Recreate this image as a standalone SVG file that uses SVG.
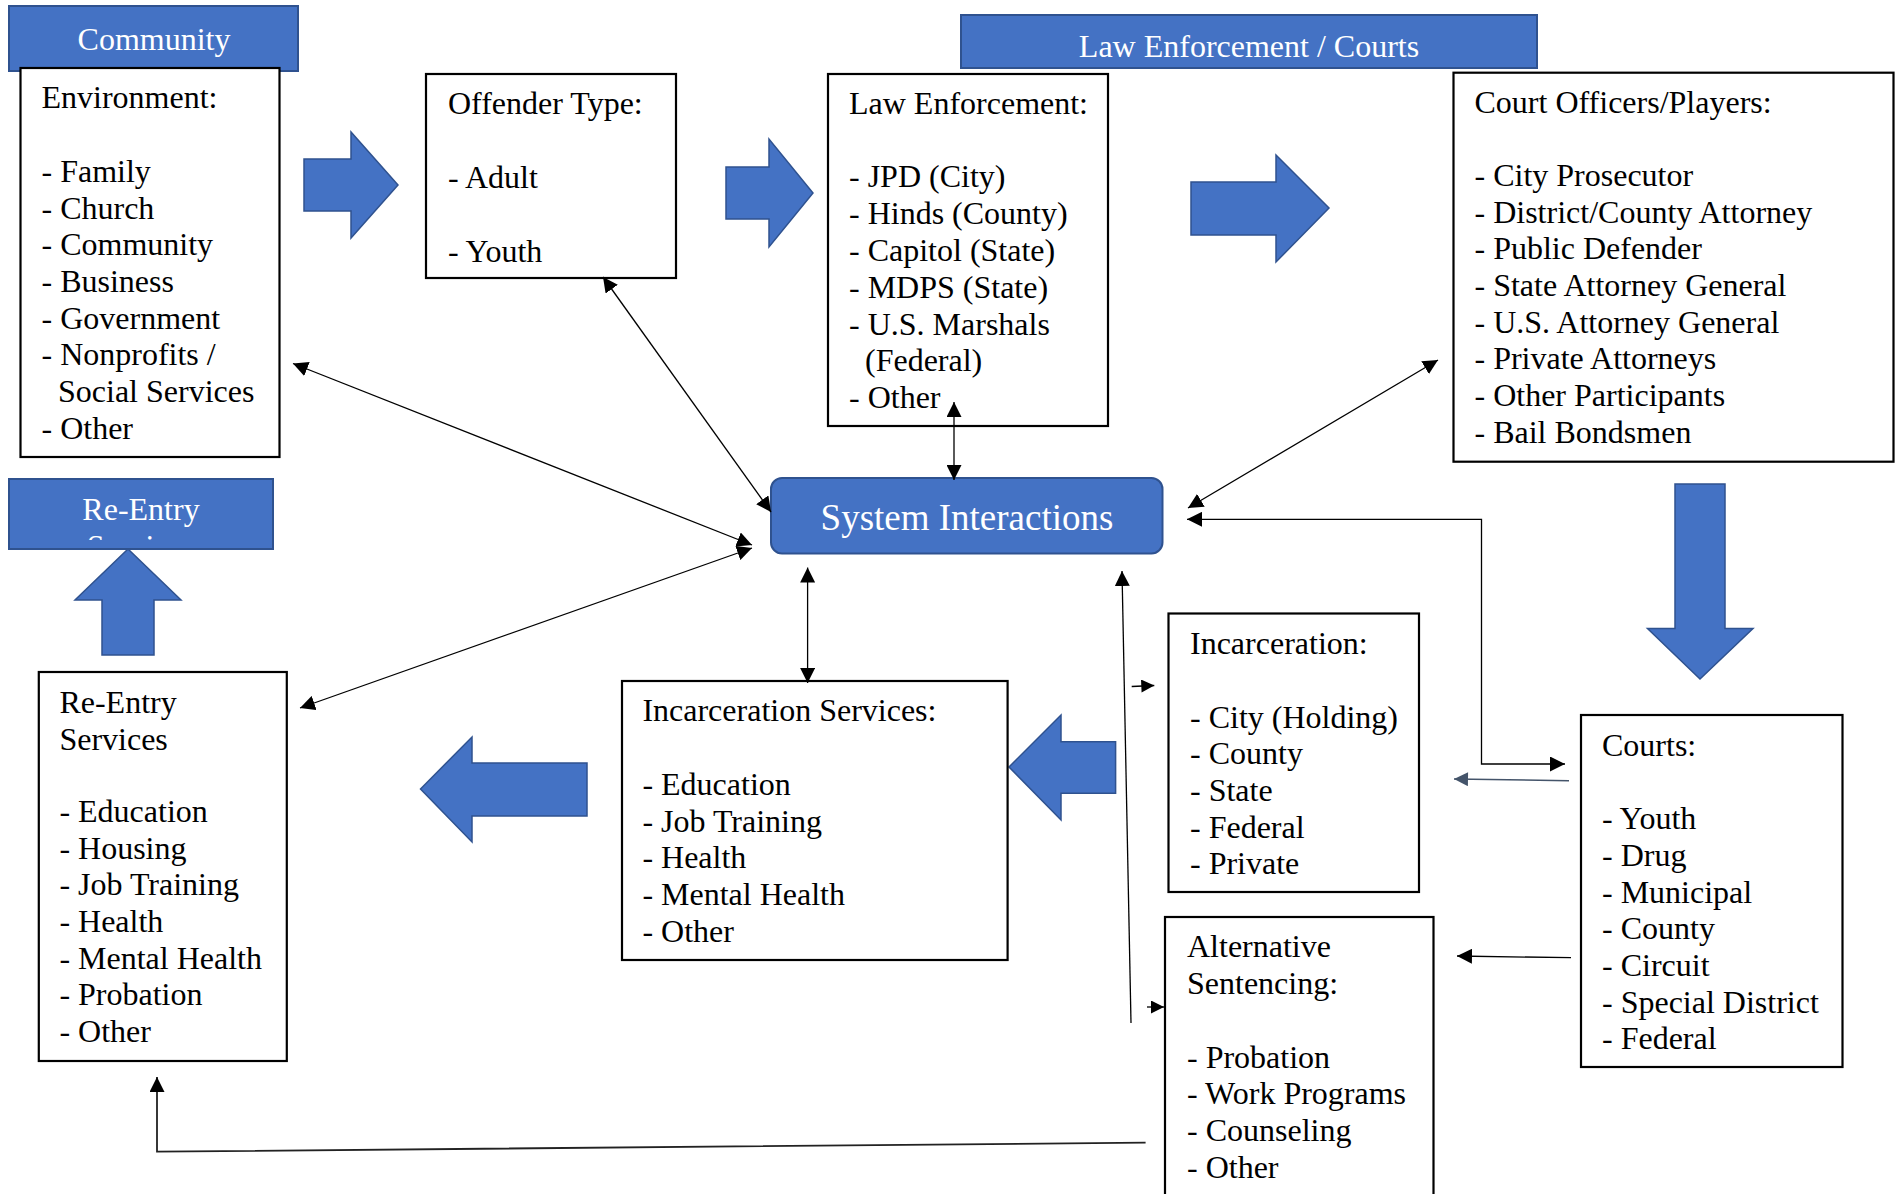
<svg xmlns="http://www.w3.org/2000/svg" width="1900" height="1194" viewBox="0 0 1900 1194">
<defs>
<style>
.bg{fill:#ffffff}
.box{fill:#ffffff;stroke:#000000;stroke-width:2.2}
.hdr{fill:#4472C4;stroke:#2F528F;stroke-width:2}
.blk{fill:#4472C4;stroke:#2F528F;stroke-width:1.5;stroke-linejoin:miter}
.t{font-family:"Liberation Serif","Times New Roman",serif;font-size:32px;fill:#000000}
.ht{font-family:"Liberation Serif","Times New Roman",serif;font-size:32px;fill:#ffffff;text-anchor:middle}
.st{font-family:"Liberation Serif","Times New Roman",serif;font-size:37px;fill:#ffffff;text-anchor:middle}
.c{fill:none;stroke:#000000;stroke-width:1.3}
.cg{fill:none;stroke:#44546A;stroke-width:1.5}
.cb{fill:none;stroke:#222222;stroke-width:1.8}
</style>
<marker id="ah" viewBox="0 0 10 10" refX="10" refY="5" markerWidth="15" markerHeight="15" markerUnits="userSpaceOnUse" orient="auto-start-reverse">
<path d="M0,0 L10,5 L0,10 z" fill="#000000"/>
</marker>
<marker id="ahs" viewBox="0 0 10 10" refX="10" refY="5" markerWidth="14" markerHeight="13" markerUnits="userSpaceOnUse" orient="auto">
<path d="M0,0 L10,5 L0,10 z" fill="#000000"/>
</marker>
<marker id="ahg" viewBox="0 0 10 10" refX="10" refY="5" markerWidth="15" markerHeight="14" markerUnits="userSpaceOnUse" orient="auto">
<path d="M0,0 L10,5 L0,10 z" fill="#44546A"/>
</marker>
<clipPath id="reclip"><rect x="9" y="479" width="264" height="61"/></clipPath>
</defs>
<rect class="bg" x="0" y="0" width="1900" height="1194"/>

<g id="block-arrows">
<polygon class="blk" points="304,159 351,159 351,132 398,185 351,238 351,211 304,211"/>
<polygon class="blk" points="726,167 769,167 769,139 813,193 769,247 769,219 726,219"/>
<polygon class="blk" points="1191,182 1276,182 1276,155 1329,208 1276,262 1276,235 1191,235"/>
<polygon class="blk" points="1675,484 1725,484 1725,628.5 1753,628.5 1700,679 1647.5,628.5 1675,628.5"/>
<polygon class="blk" points="1009,767 1061,715 1061,741.7 1115.6,741.7 1115.6,793.3 1061,793.3 1061,820"/>
<polygon class="blk" points="420.5,789 472,737 472,763 587,763 587,816 472,816 472,842"/>
<polygon class="blk" points="128,549 181,600 154,600 154,655 102,655 102,600 75,600"/>
</g>

<g id="community-header">
<rect class="hdr" x="9" y="6" width="289" height="65"/>
<text class="ht" x="154" y="50">Community</text>
</g>

<g id="law-courts-header">
<rect class="hdr" x="961" y="15" width="576" height="53"/>
<text class="ht" x="1249" y="57">Law Enforcement / Courts</text>
</g>

<g id="reentry-header">
<rect class="hdr" x="9" y="479" width="264" height="70"/>
<text class="ht" x="141" y="520">Re-Entry</text>
<text class="ht" x="141" y="557" clip-path="url(#reclip)">Services</text>
</g>

<g id="environment">
<rect class="box" x="20.5" y="68" width="259" height="389"/>
<text class="t">
<tspan x="41.5" y="107.5">Environment:</tspan>
<tspan x="41.5" y="182">- Family</tspan>
<tspan x="41.5" y="218.5">- Church</tspan>
<tspan x="41.5" y="255">- Community</tspan>
<tspan x="41.5" y="292">- Business</tspan>
<tspan x="41.5" y="328.5">- Government</tspan>
<tspan x="41.5" y="365">- Nonprofits /</tspan>
<tspan x="58" y="402">Social Services</tspan>
<tspan x="41.5" y="438.5">- Other</tspan>
</text>
</g>

<g id="offender-type">
<rect class="box" x="426" y="74" width="250" height="204"/>
<text class="t">
<tspan x="448" y="113.5">Offender Type:</tspan>
<tspan x="448" y="188">- Adult</tspan>
<tspan x="448" y="262">- Youth</tspan>
</text>
</g>

<g id="law-enforcement">
<rect class="box" x="828" y="74" width="280" height="352"/>
<text class="t">
<tspan x="849" y="113.5">Law Enforcement:</tspan>
<tspan x="849" y="187">- JPD (City)</tspan>
<tspan x="849" y="224">- Hinds (County)</tspan>
<tspan x="849" y="261">- Capitol (State)</tspan>
<tspan x="849" y="298">- MDPS (State)</tspan>
<tspan x="849" y="334.5">- U.S. Marshals</tspan>
<tspan x="865" y="371">(Federal)</tspan>
<tspan x="849" y="408">- Other</tspan>
</text>
</g>

<g id="court-officers">
<rect class="box" x="1453.5" y="72.7" width="440" height="389"/>
<text class="t">
<tspan x="1474.5" y="112.5">Court Officers/Players:</tspan>
<tspan x="1474.5" y="186">- City Prosecutor</tspan>
<tspan x="1474.5" y="222.5">- District/County Attorney</tspan>
<tspan x="1474.5" y="259">- Public Defender</tspan>
<tspan x="1474.5" y="296">- State Attorney General</tspan>
<tspan x="1474.5" y="332.5">- U.S. Attorney General</tspan>
<tspan x="1474.5" y="369">- Private Attorneys</tspan>
<tspan x="1474.5" y="406">- Other Participants</tspan>
<tspan x="1474.5" y="443">- Bail Bondsmen</tspan>
</text>
</g>

<g id="system-interactions">
<rect class="hdr" x="771" y="478" width="391.5" height="75.5" rx="11" ry="11"/>
<text class="st" x="967" y="529.5">System Interactions</text>
</g>

<g id="reentry-services">
<rect class="box" x="38.8" y="672" width="248" height="389"/>
<text class="t">
<tspan x="59.4" y="713">Re-Entry</tspan>
<tspan x="59.4" y="749.5">Services</tspan>
<tspan x="59.4" y="822">- Education</tspan>
<tspan x="59.4" y="858.7">- Housing</tspan>
<tspan x="59.4" y="895.4">- Job Training</tspan>
<tspan x="59.4" y="932">- Health</tspan>
<tspan x="59.4" y="968.7">- Mental Health</tspan>
<tspan x="59.4" y="1005.4">- Probation</tspan>
<tspan x="59.4" y="1042">- Other</tspan>
</text>
</g>

<g id="incarceration-services">
<rect class="box" x="622" y="681" width="385.6" height="279"/>
<text class="t">
<tspan x="642.4" y="721">Incarceration Services:</tspan>
<tspan x="642.4" y="795">- Education</tspan>
<tspan x="642.4" y="831.7">- Job Training</tspan>
<tspan x="642.4" y="868.4">- Health</tspan>
<tspan x="642.4" y="905">- Mental Health</tspan>
<tspan x="642.4" y="941.7">- Other</tspan>
</text>
</g>

<g id="incarceration">
<rect class="box" x="1168.5" y="613.5" width="250.5" height="278.5"/>
<text class="t">
<tspan x="1190" y="653.5">Incarceration:</tspan>
<tspan x="1190" y="727.5">- City (Holding)</tspan>
<tspan x="1190" y="764.3">- County</tspan>
<tspan x="1190" y="801">- State</tspan>
<tspan x="1190" y="837.5">- Federal</tspan>
<tspan x="1190" y="874">- Private</tspan>
</text>
</g>

<g id="alternative-sentencing">
<rect class="box" x="1165" y="917" width="268.5" height="300"/>
<text class="t">
<tspan x="1187" y="957">Alternative</tspan>
<tspan x="1187" y="993.7">Sentencing:</tspan>
<tspan x="1187" y="1067.5">- Probation</tspan>
<tspan x="1187" y="1104.3">- Work Programs</tspan>
<tspan x="1187" y="1141">- Counseling</tspan>
<tspan x="1187" y="1177.7">- Other</tspan>
</text>
</g>

<g id="courts">
<rect class="box" x="1581" y="715" width="261.5" height="352"/>
<text class="t">
<tspan x="1602" y="756">Courts:</tspan>
<tspan x="1602" y="829">- Youth</tspan>
<tspan x="1602" y="866">- Drug</tspan>
<tspan x="1602" y="902.5">- Municipal</tspan>
<tspan x="1602" y="939">- County</tspan>
<tspan x="1602" y="976">- Circuit</tspan>
<tspan x="1602" y="1012.5">- Special District</tspan>
<tspan x="1602" y="1049">- Federal</tspan>
</text>
</g>

<g id="connectors">
<line class="c" x1="293" y1="363.5" x2="752" y2="545" marker-start="url(#ah)" marker-end="url(#ah)"/>
<line class="c" x1="603" y1="277" x2="771" y2="512" marker-start="url(#ah)" marker-end="url(#ah)"/>
<line class="c" x1="954" y1="402" x2="954" y2="480" marker-start="url(#ah)" marker-end="url(#ah)"/>
<line class="c" x1="1438" y1="360" x2="1188" y2="508" marker-start="url(#ah)" marker-end="url(#ah)"/>
<line class="c" x1="300" y1="708" x2="752" y2="548" marker-start="url(#ah)" marker-end="url(#ah)"/>
<line class="c" x1="807.6" y1="567.5" x2="807.6" y2="683" marker-start="url(#ah)" marker-end="url(#ah)"/>
<polyline class="c" points="1565,764 1481.5,764 1481.5,519.3 1187,519.3" marker-start="url(#ah)" marker-end="url(#ah)"/>
<line class="cg" x1="1569" y1="780.7" x2="1454" y2="779" marker-end="url(#ahg)"/>
<line class="c" x1="1571" y1="957.7" x2="1457" y2="956" marker-end="url(#ah)"/>
<line class="c" x1="1131" y1="1023" x2="1122" y2="571" marker-end="url(#ah)"/>
<line class="c" x1="1131.7" y1="686.5" x2="1154.3" y2="685.5" marker-end="url(#ahs)"/>
<line class="c" x1="1147" y1="1007" x2="1164" y2="1007" marker-end="url(#ahs)"/>
<polyline class="cb" points="1145.6,1142.7 157,1151.7 157,1077" marker-end="url(#ah)"/>
</g>
</svg>
